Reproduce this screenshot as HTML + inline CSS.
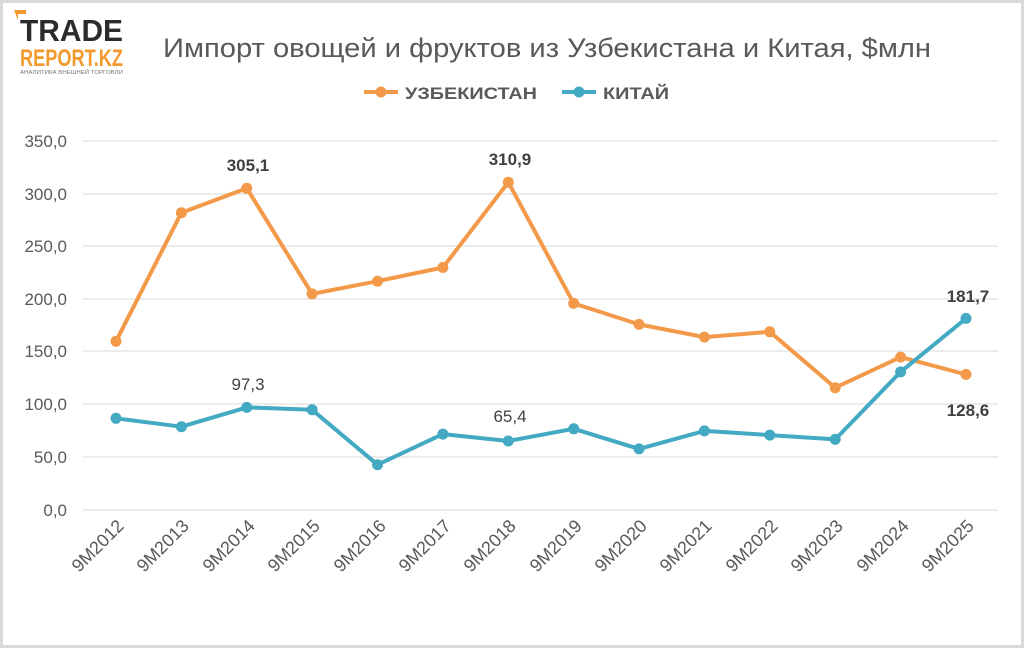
<!DOCTYPE html>
<html><head><meta charset="utf-8"><style>
body{margin:0;background:#fff}
svg{display:block;font-family:"Liberation Sans",Arial,sans-serif}
</style></head><body>
<svg width="1024" height="648" viewBox="0 0 1024 648" xmlns="http://www.w3.org/2000/svg">
<rect x="1.5" y="1.5" width="1021" height="645" fill="#fff" stroke="#d9d9d9" stroke-width="3"/>
<!-- logo -->
<polygon points="14,10 26,10 26,14 18,14 18,20" fill="#f39a2e"/>
<text x="20" y="41" font-size="31" font-weight="bold" fill="#2b2b2b" textLength="103" lengthAdjust="spacingAndGlyphs">TRADE</text>
<text x="20" y="66" font-size="24" font-weight="bold" fill="#f39a2e" textLength="103" lengthAdjust="spacingAndGlyphs">REPORT.KZ</text>
<text x="20" y="74" font-size="5" fill="#777" textLength="103" lengthAdjust="spacingAndGlyphs">АНАЛИТИКА ВНЕШНЕЙ ТОРГОВЛИ</text>
<text x="547" y="57" font-size="27" fill="#595959" text-anchor="middle" textLength="768" lengthAdjust="spacingAndGlyphs">Импорт овощей и фруктов из Узбекистана и Китая, $млн</text>
<!-- legend -->
<line x1="364" y1="92" x2="398" y2="92" stroke="#f39a4a" stroke-width="4"/><circle cx="381" cy="92" r="5.5" fill="#f39a4a"/>
<text x="405" y="99" font-size="17" font-weight="bold" fill="#595959" textLength="132" lengthAdjust="spacingAndGlyphs">УЗБЕКИСТАН</text>
<line x1="562" y1="92" x2="596" y2="92" stroke="#44a9c2" stroke-width="4"/><circle cx="579" cy="92" r="5.5" fill="#44a9c2"/>
<text x="603" y="99" font-size="17" font-weight="bold" fill="#595959" textLength="66" lengthAdjust="spacingAndGlyphs">КИТАЙ</text>
<!-- grid -->
<g stroke="#d9d9d9" stroke-width="1">
<line x1="83" y1="141" x2="998" y2="141"/><line x1="83" y1="194" x2="998" y2="194"/>
<line x1="83" y1="246" x2="998" y2="246"/><line x1="83" y1="299" x2="998" y2="299"/>
<line x1="83" y1="351" x2="998" y2="351"/><line x1="83" y1="404" x2="998" y2="404"/>
<line x1="83" y1="457" x2="998" y2="457"/><line x1="83" y1="510" x2="998" y2="510"/>
</g>
<g font-size="17" fill="#595959" text-anchor="end">
<text x="67" y="147">350,0</text><text x="67" y="200">300,0</text><text x="67" y="252">250,0</text>
<text x="67" y="305">200,0</text><text x="67" y="357">150,0</text><text x="67" y="410">100,0</text>
<text x="67" y="463">50,0</text><text x="67" y="516">0,0</text>
</g>
<g font-size="18" fill="#595959" text-anchor="end">
<text transform="translate(125,527) rotate(-45)">9M2012</text>
<text transform="translate(190,527) rotate(-45)">9M2013</text>
<text transform="translate(256,527) rotate(-45)">9M2014</text>
<text transform="translate(321,527) rotate(-45)">9M2015</text>
<text transform="translate(387,527) rotate(-45)">9M2016</text>
<text transform="translate(452,527) rotate(-45)">9M2017</text>
<text transform="translate(517,527) rotate(-45)">9M2018</text>
<text transform="translate(583,527) rotate(-45)">9M2019</text>
<text transform="translate(648,527) rotate(-45)">9M2020</text>
<text transform="translate(713,527) rotate(-45)">9M2021</text>
<text transform="translate(779,527) rotate(-45)">9M2022</text>
<text transform="translate(844,527) rotate(-45)">9M2023</text>
<text transform="translate(910,527) rotate(-45)">9M2024</text>
<text transform="translate(975,527) rotate(-45)">9M2025</text>
</g>
<polyline fill="none" stroke="#f39a4a" stroke-width="4" stroke-linejoin="round" points="116,341.3 181.4,212.7 246.8,188.3 312.1,293.9 377.5,281.2 442.9,267.5 508.3,182.2 573.7,303.4 639,324.4 704.4,337.1 769.8,331.8 835.2,387.7 900.6,357.1 966,374.4"/>
<g fill="#f39a4a">
<circle cx="116" cy="341.3" r="5.5"/><circle cx="181.4" cy="212.7" r="5.5"/><circle cx="246.8" cy="188.3" r="5.5"/><circle cx="312.1" cy="293.9" r="5.5"/><circle cx="377.5" cy="281.2" r="5.5"/><circle cx="442.9" cy="267.5" r="5.5"/><circle cx="508.3" cy="182.2" r="5.5"/><circle cx="573.7" cy="303.4" r="5.5"/><circle cx="639" cy="324.4" r="5.5"/><circle cx="704.4" cy="337.1" r="5.5"/><circle cx="769.8" cy="331.8" r="5.5"/><circle cx="835.2" cy="387.7" r="5.5"/><circle cx="900.6" cy="357.1" r="5.5"/><circle cx="966" cy="374.4" r="5.5"/>
</g>
<polyline fill="none" stroke="#44a9c2" stroke-width="4" stroke-linejoin="round" points="116,418.3 181.4,426.7 246.8,407.4 312.1,409.8 377.5,464.7 442.9,434.1 508.3,441 573.7,428.8 639,448.9 704.4,430.9 769.8,435.1 835.2,439.4 900.6,371.9 966,318.4"/>
<g fill="#44a9c2">
<circle cx="116" cy="418.3" r="5.5"/><circle cx="181.4" cy="426.7" r="5.5"/><circle cx="246.8" cy="407.4" r="5.5"/><circle cx="312.1" cy="409.8" r="5.5"/><circle cx="377.5" cy="464.7" r="5.5"/><circle cx="442.9" cy="434.1" r="5.5"/><circle cx="508.3" cy="441" r="5.5"/><circle cx="573.7" cy="428.8" r="5.5"/><circle cx="639" cy="448.9" r="5.5"/><circle cx="704.4" cy="430.9" r="5.5"/><circle cx="769.8" cy="435.1" r="5.5"/><circle cx="835.2" cy="439.4" r="5.5"/><circle cx="900.6" cy="371.9" r="5.5"/><circle cx="966" cy="318.4" r="5.5"/>
</g>
<g font-size="17" fill="#404040" text-anchor="middle">
<text x="248" y="171" font-weight="bold">305,1</text>
<text x="510" y="165" font-weight="bold">310,9</text>
<text x="968" y="302" font-weight="bold">181,7</text>
<text x="968" y="416" font-weight="bold">128,6</text>
<text x="248" y="390">97,3</text>
<text x="510" y="422">65,4</text>
</g>
</svg>
</body></html>
